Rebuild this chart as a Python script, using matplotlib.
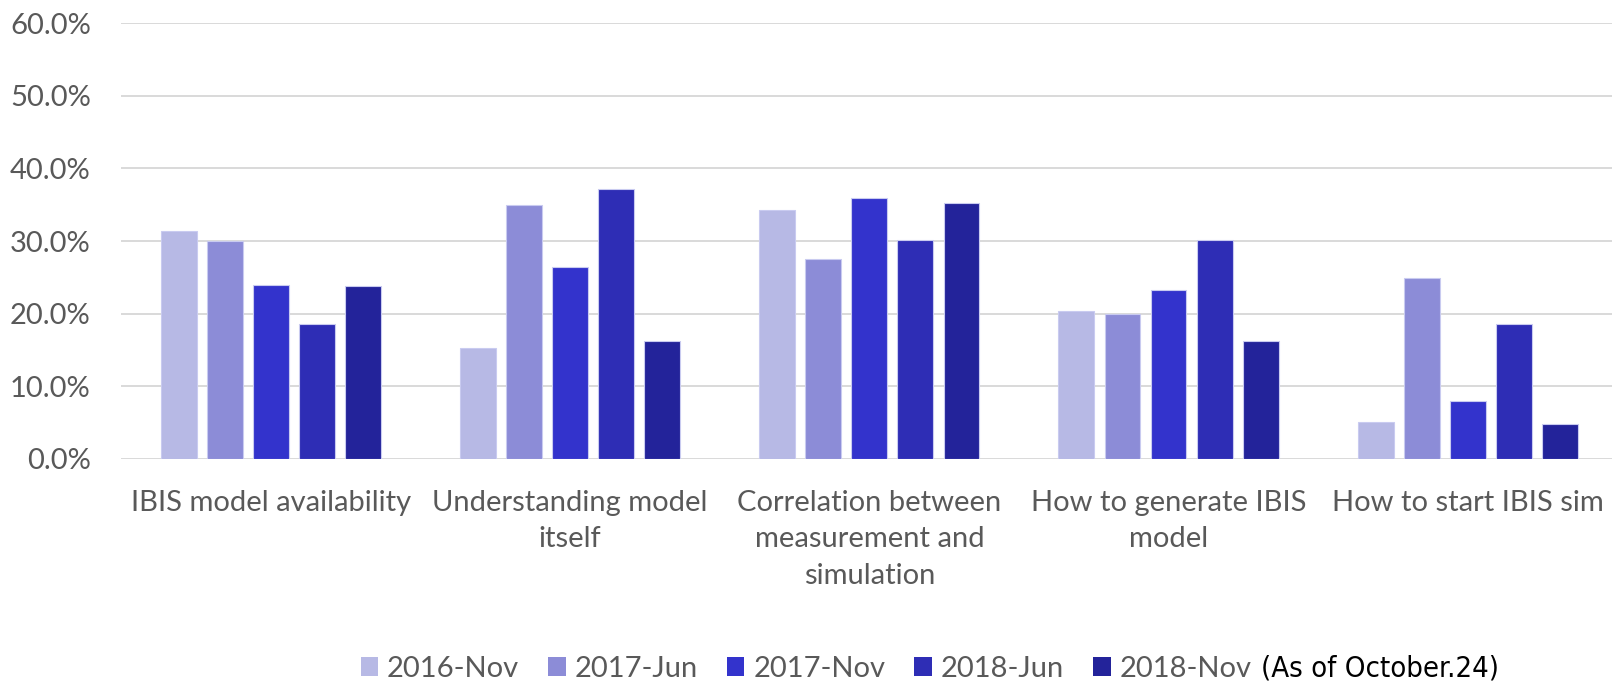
import numpy as np
import matplotlib
matplotlib.use("Agg")
import matplotlib.pyplot as plt
from matplotlib.patches import Patch
from matplotlib.ticker import FuncFormatter

plt.rcParams['font.family'] = ['Lato', 'DejaVu Sans']

# survey categories and share per survey round
categories = ["IBIS model availability", "Understanding model\nitself",
              "Correlation between\nmeasurement and\nsimulation",
              "How to generate IBIS\nmodel", "How to start IBIS sim"]
series_names = ["2016-Nov", "2017-Jun", "2017-Nov", "2018-Jun", "2018-Nov"]
nov_2016 = [31.4, 15.3, 34.3, 20.4, 5.1]
jun_2017 = [30.0, 35.0, 27.5, 20.0, 24.9]
nov_2017 = [24.0, 26.4, 35.9, 23.2, 8.0]
jun_2018 = [18.6, 37.2, 30.2, 30.2, 18.6]
nov_2018 = [23.8, 16.2, 35.3, 16.2, 4.8]
series_vals = [nov_2016, jun_2017, nov_2017, jun_2018, nov_2018]
colors = ["#B7B9E5", "#8C8CD7", "#3333CC", "#2E2DB5", "#23239A"]

fig = plt.figure(figsize=(16.12, 6.81), dpi=100)
ax = fig.add_axes([0.0753, 0.326, 0.928, 0.640])

x = np.arange(len(categories))
step = 0.154
width = 0.12
for i, (name, vals) in enumerate(zip(series_names, series_vals)):
    ax.bar(x + (i - 2) * step, vals, width, color=colors[i], label=name,
           edgecolor="#c9cbf0", linewidth=0.8, zorder=3)

ax.set_xlim(-0.5, 4.5)
ax.set_ylim(0, 60)
ax.set_yticks(np.arange(0, 61, 10))
ax.yaxis.set_major_formatter(FuncFormatter(lambda v, p: "%.1f%%" % v))
ax.grid(axis="y", color="#d9d9d9", linewidth=1.4, zorder=0)
for s in ax.spines.values():
    s.set_visible(False)
ax.tick_params(axis="both", length=0, labelsize=21, labelcolor="#595959")
ax.tick_params(axis="y", pad=22)
ax.tick_params(axis="x", pad=22)
ax.set_xticks(x)
ax.set_xticklabels(categories, linespacing=1.5)

handles = [Patch(facecolor=c, edgecolor="none") for c in colors]
fig.legend(handles, series_names, loc="center", bbox_to_anchor=(0.5, 0.018),
           ncol=5, frameon=False, fontsize=21, labelcolor="#595959",
           handlelength=0.6, handleheight=0.6, handletextpad=0.3,
           columnspacing=1.0, borderaxespad=0)
fig.text(0.782, 0.018, "(As of October.24)", fontsize=21, color="black",
         family=["DejaVu Sans Condensed", "DejaVu Sans"], fontstretch="condensed",
         va="center", ha="left")

fig.savefig("out.png", dpi=100)
